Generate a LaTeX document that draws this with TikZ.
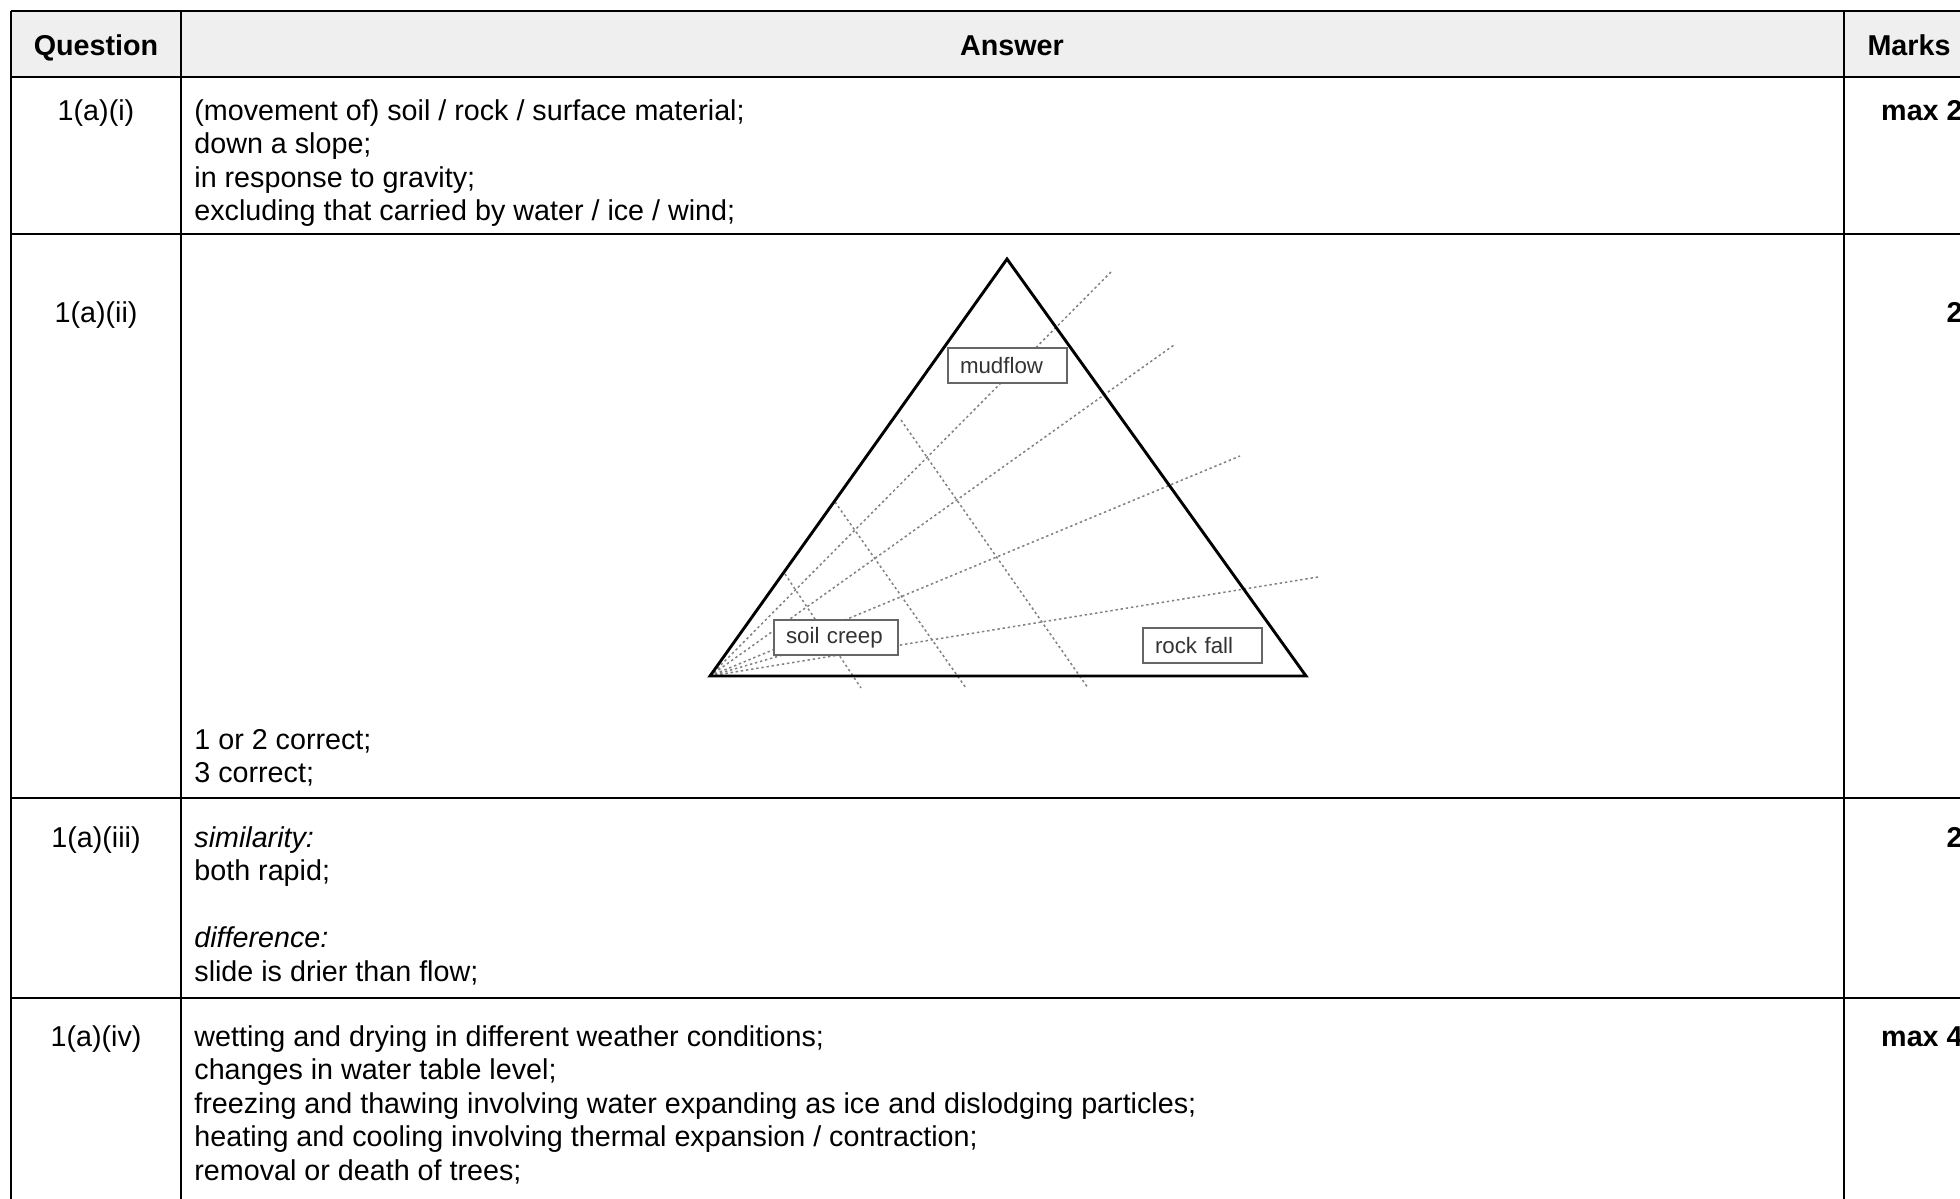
\documentclass[tikz,border=0pt]{standalone}
\usepackage{fontspec}
\setmainfont{Liberation Sans}
\newcommand\cellfont{\fontsize{14.35pt}{16.75pt}\selectfont}
\newcommand\tagfont{\fontsize{11.15pt}{13pt}\selectfont}
\definecolor{headgray}{HTML}{EFEFEF}
\tikzset{
	rule/.style={line width=1.1pt},
	outer rule/.style={line width=0.6pt},
	guide/.style={draw=black!50, line width=0.75pt, dash pattern=on 1.2pt off 1.4pt},
	tri/.style={line width=1.45pt},
	tag/.style={draw=black!60, line width=0.7pt, fill=white, font=\tagfont, text=black!80, inner xsep=6pt, inner ysep=0pt, minimum height=17.5pt, align=left},
	cell/.style={anchor=base west, inner sep=0pt, font=\cellfont},
	qcell/.style={anchor=base, inner sep=0pt, font=\cellfont},
	mcell/.style={anchor=base east, inner sep=0pt, font=\cellfont\bfseries},
	head/.style={anchor=base, inner sep=0pt, font=\cellfont\bfseries}
}
\begin{document}
\begin{tikzpicture}[x=0.5pt, y=-0.5pt]
	\useasboundingbox (0,0) rectangle (1960,1199);
	\clip (0,0) rectangle (1960,1199);
	\fill[headgray] (11,11) rectangle (1990,77);
	\draw[outer rule] (11,11) -- (1990,11);
	\draw[outer rule] (11,11) -- (11,1210);
	\foreach \x in {181,1844}{
		\draw[rule] (\x,11) -- (\x,1210);
	}
	\foreach \y in {77,234,798,998}{
		\draw[rule] (11,\y) -- (1990,\y);
	}
	\node[head] (hq) at (96,55) {Question};
	\node[head] (ha) at (1012,55) {Answer};
	\node[head] (hm) at (1909,55) {Marks};
	\node[qcell] (q1) at (96,120) {1(a)(i)};
	\node[qcell] (q2) at (96,322) {1(a)(ii)};
	\node[qcell] (q3) at (96,847) {1(a)(iii)};
	\node[qcell] (q4) at (96,1046) {1(a)(iv)};
	\node[mcell] (m1) at (1963,120) {max 2};
	\node[mcell] (m2) at (1963,322) {2};
	\node[mcell] (m3) at (1963,847) {2};
	\node[mcell] (m4) at (1963,1046) {max 4};
	\foreach \t [count=\i from 0] in {{(movement of) soil / rock / surface material;},{down a slope;},{in response to gravity;},{excluding that carried by water / ice / wind;}}{
		\node[cell] (a1-\i) at (194,120+33.5*\i) {\t};
	}
	\node[cell] (a2-0) at (194,749) {1 or 2 correct;};
	\node[cell] (a2-1) at (194,782.5) {3 correct;};
	\node[cell] (a3-0) at (194,847) {\itshape similarity:};
	\node[cell] (a3-1) at (194,880.5) {both rapid;};
	\node[cell] (a3-2) at (194,947.5) {\itshape difference:};
	\node[cell] (a3-3) at (194,981) {slide is drier than flow;};
	\foreach \t [count=\i from 0] in {{wetting and drying in different weather conditions;},{changes in water table level;},{freezing and thawing involving water expanding as ice and dislodging particles;},{heating and cooling involving thermal expansion / contraction;},{removal or death of trees;}}{
		\node[cell] (a4-\i) at (194,1046+33.5*\i) {\t};
	}
	\coordinate (apex) at (1007,259);
	\coordinate (vl) at (710,676);
	\coordinate (vr) at (1306,676);
	\foreach \ex/\ey in {1112/271,1174/345,1240/456,1318/577,800/650}{
		\draw[guide] (vl) -- (\ex,\ey);
	}
	\foreach \ax/\ay/\bx/\by in {901/420/1088/688,835/502/966/688,785/574/861/688}{
		\draw[guide] (\ax,\ay) -- (\bx,\by);
	}
	\draw[tri, line join=miter] (vl) -- (apex) -- (vr) -- cycle;
	\node[tag, text width=47.5pt] (mud) at (1007.5,365.5) {mudflow};
	\node[tag, text width=50pt] (creep) at (836,637.5) {soil creep};
	\node[tag, text width=47.5pt] (fall) at (1202.5,645.5) {rock fall};
\end{tikzpicture}
\end{document}
